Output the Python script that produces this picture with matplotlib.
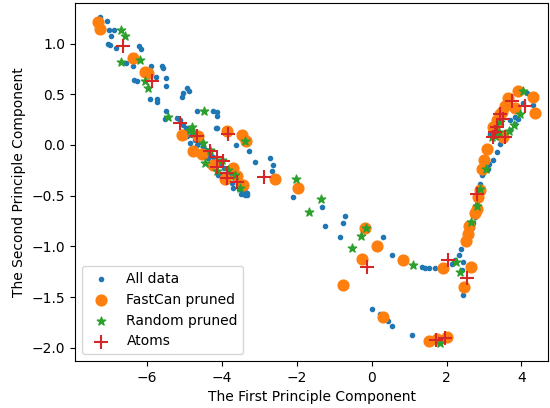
import numpy as np
import matplotlib
matplotlib.use('Agg')
import matplotlib.pyplot as plt

# all data (blue dots)
all_x = [-7.26, -7.07, -7.02, -6.88, -6.97, -7.04, -7.00, -6.84, -6.21, -6.17,
         -6.58, -6.37, -5.90, -5.61, -5.57, -6.35, -6.27, -5.77, -5.50, -5.50,
         -5.93, -5.73, -5.73, -5.08, -5.04, -4.95, -4.88, -5.51, -5.53, -5.21,
         -4.66, -4.24, -4.14, -4.16, -3.64, -3.27, -3.12, -2.72, -2.65, -2.67,
         -5.13, -5.05, -4.97, -4.91, -4.80, -4.72, -4.62, -4.51, -4.43, -4.32,
         -4.24, -4.14, -4.06, -3.95, -3.84, -3.76, -3.65, -3.57, -3.49, -3.41,
         -3.33, -5.02, -4.67, -4.38, -4.00, -3.74, -3.55, -3.39, -3.34, -4.86,
         -4.14, -4.14, -2.10, -1.34, -1.25, -0.85, -0.78, -0.71, 0.31, 0.53,
         1.34, 1.54, 1.69, 0.00, 0.22, 0.44, 0.55, 1.07, 1.43, 2.14,
         2.23, 2.32, 2.38, 2.43, 2.41, 2.45, 2.94, 3.03, 3.14, 3.24,
         3.34, 3.43, 3.70, 3.83, 3.92, 4.04, 4.32, 4.28, 4.14, 3.16,
         2.90, 2.85, 2.76, 2.70, 3.92, 3.83, 3.70, 2.52, 2.57,
         -4.95, -4.75, -4.55, -4.35, -4.10, -3.90, -3.70, -3.50, -3.45, -3.38,
         2.62, 2.68, 2.80, 2.98, 3.10]
all_y = [1.26, 1.22, 1.13, 1.13, 1.07, 1.00, 0.99, 0.96, 0.98, 0.95,
         0.81, 0.78, 0.78, 0.78, 0.76, 0.64, 0.63, 0.67, 0.66, 0.58,
         0.45, 0.45, 0.42, 0.47, 0.51, 0.56, 0.53, 0.34, 0.26, 0.27,
         0.34, 0.34, 0.29, 0.17, 0.00, -0.06, -0.17, -0.13, -0.20, -0.26,
         0.25, 0.20, 0.17, 0.14, 0.10, 0.05, 0.03, -0.02, -0.05, -0.09,
         -0.12, -0.16, -0.19, -0.23, -0.27, -0.31, -0.34, -0.38, -0.41, -0.44,
         -0.47, 0.13, 0.00, -0.13, -0.29, -0.37, -0.43, -0.49, -0.49, 0.02,
         0.33, 0.17, -0.51, -0.61, -0.80, -0.91, -0.77, -0.70, -0.91, -1.08,
         -1.20, -1.21, -1.21, -1.62, -1.67, -1.74, -1.78, -1.87, -1.21, -1.17,
         -1.13, -1.08, -1.03, -1.15, -1.23, -1.48, -0.30, -0.21, -0.19, -0.15,
         -0.07, 0.01, 0.25, 0.28, 0.34, 0.41, 0.39, 0.46, 0.51, 0.11,
         -0.38, -0.54, -0.71, -0.77, 0.26, 0.21, 0.15, -0.95, -0.86,
         0.09, -0.04, -0.10, -0.20, -0.30, -0.36, -0.42, -0.48, -0.46, -0.42,
         -0.90, -0.82, -0.58, -0.28, -0.24]

# FastCan pruned
fastcan_x = [-7.31, -7.25, -6.37, -6.06, -5.97, -5.08, -4.64, -3.88, -3.48, -3.37,
             -4.77, -4.55, -4.24, -3.70, -3.59, -3.43, -3.92, -2.59, -1.96, -0.18,
             0.15, -0.25, 0.83, -0.76, 0.29, 1.54, 1.75, 2.01, 1.91, 2.65,
             2.47, 2.58, 2.52, 2.61, 2.76, 2.81, 2.88, 2.85, 2.94, 3.00,
             3.07, 4.37, 4.30, 3.92, 3.65, 3.56, 3.83, 3.43, 3.34, 3.25,
             3.52, 3.48]
fastcan_y = [1.21, 1.14, 0.86, 0.72, 0.71, 0.10, 0.09, 0.14, 0.10, 0.04,
             -0.06, -0.09, -0.20, -0.23, -0.31, -0.39, -0.34, -0.34, -0.42, -0.82,
             -1.00, -1.12, -1.13, -1.38, -1.70, -1.93, -1.91, -1.89, -1.21, -1.20,
             -1.40, -0.88, -0.95, -0.80, -0.67, -0.63, -0.44, -0.51, -0.24, -0.15,
             -0.04, 0.32, 0.47, 0.53, 0.46, 0.38, 0.36, 0.31, 0.25, 0.18,
             0.08, 0.33]

# Random pruned
random_x = [-6.71, -6.60, -6.71, -6.20, -6.06, -5.99, -5.44, -4.48, -4.81, -3.39,
            -4.46, -4.86, -4.77, -4.50, -4.14, -3.52, -2.03, -3.66, -1.36, -1.67,
            -0.16, -0.29, -0.52, 1.11, 2.25, 2.36, 2.65, 2.81, 2.90, 3.06,
            4.05, 3.97, 3.79, 3.68, 3.43, 3.39, 3.30, 3.21, 1.83, -4.32,
            -4.00, -3.84]
random_y = [1.13, 1.07, 0.82, 0.84, 0.63, 0.56, 0.28, 0.34, 0.18, 0.04,
            -0.18, 0.15, 0.12, 0.02, -0.26, -0.42, -0.34, -0.30, -0.53, -0.66,
            -0.82, -0.90, -1.02, -1.18, -1.15, -1.25, -0.76, -0.60, -0.43, -0.24,
            0.53, 0.31, 0.20, 0.14, 0.23, 0.13, 0.09, 0.08, -1.95, -0.05,
            -0.15, -0.25]

# Atoms
atoms_x = [-6.64, -5.86, -5.12, -4.68, -3.83, -4.32, -4.14, -3.97, -4.14, -3.88,
           -3.88, -3.61, -2.89, -0.13, 1.71, 1.96, 2.05, 2.54, 2.82, 3.56,
           3.30, 3.24, 3.34, 3.43, 3.52, 3.74, 4.10]
atoms_y = [0.98, 0.63, 0.22, 0.09, 0.11, -0.06, -0.12, -0.16, -0.22, -0.28,
           -0.33, -0.36, -0.32, -1.20, -1.92, -1.90, -1.13, -1.31, -0.48, 0.08,
           0.13, 0.08, 0.18, 0.31, 0.26, 0.43, 0.38]

fig = plt.figure(figsize=(5.5, 4.08), dpi=100)
ax = fig.add_subplot(111)
fig.subplots_adjust(left=0.1364, right=0.9964, bottom=0.1152, top=0.9926)

ax.scatter(all_x, all_y, s=9, label='All data')
ax.scatter(fastcan_x, fastcan_y, s=60, label='FastCan pruned')
ax.scatter(random_x, random_y, s=40, marker='*', label='Random pruned')
ax.scatter(atoms_x, atoms_y, s=100, marker='+', label='Atoms')

ax.set_xlim(-7.93, 4.71)
ax.set_ylim(-2.13, 1.40)
ax.set_xlabel('The First Principle Component')
ax.set_ylabel('The Second Principle Component')
ax.legend(loc='lower left')

plt.savefig('out.png', dpi=100)
